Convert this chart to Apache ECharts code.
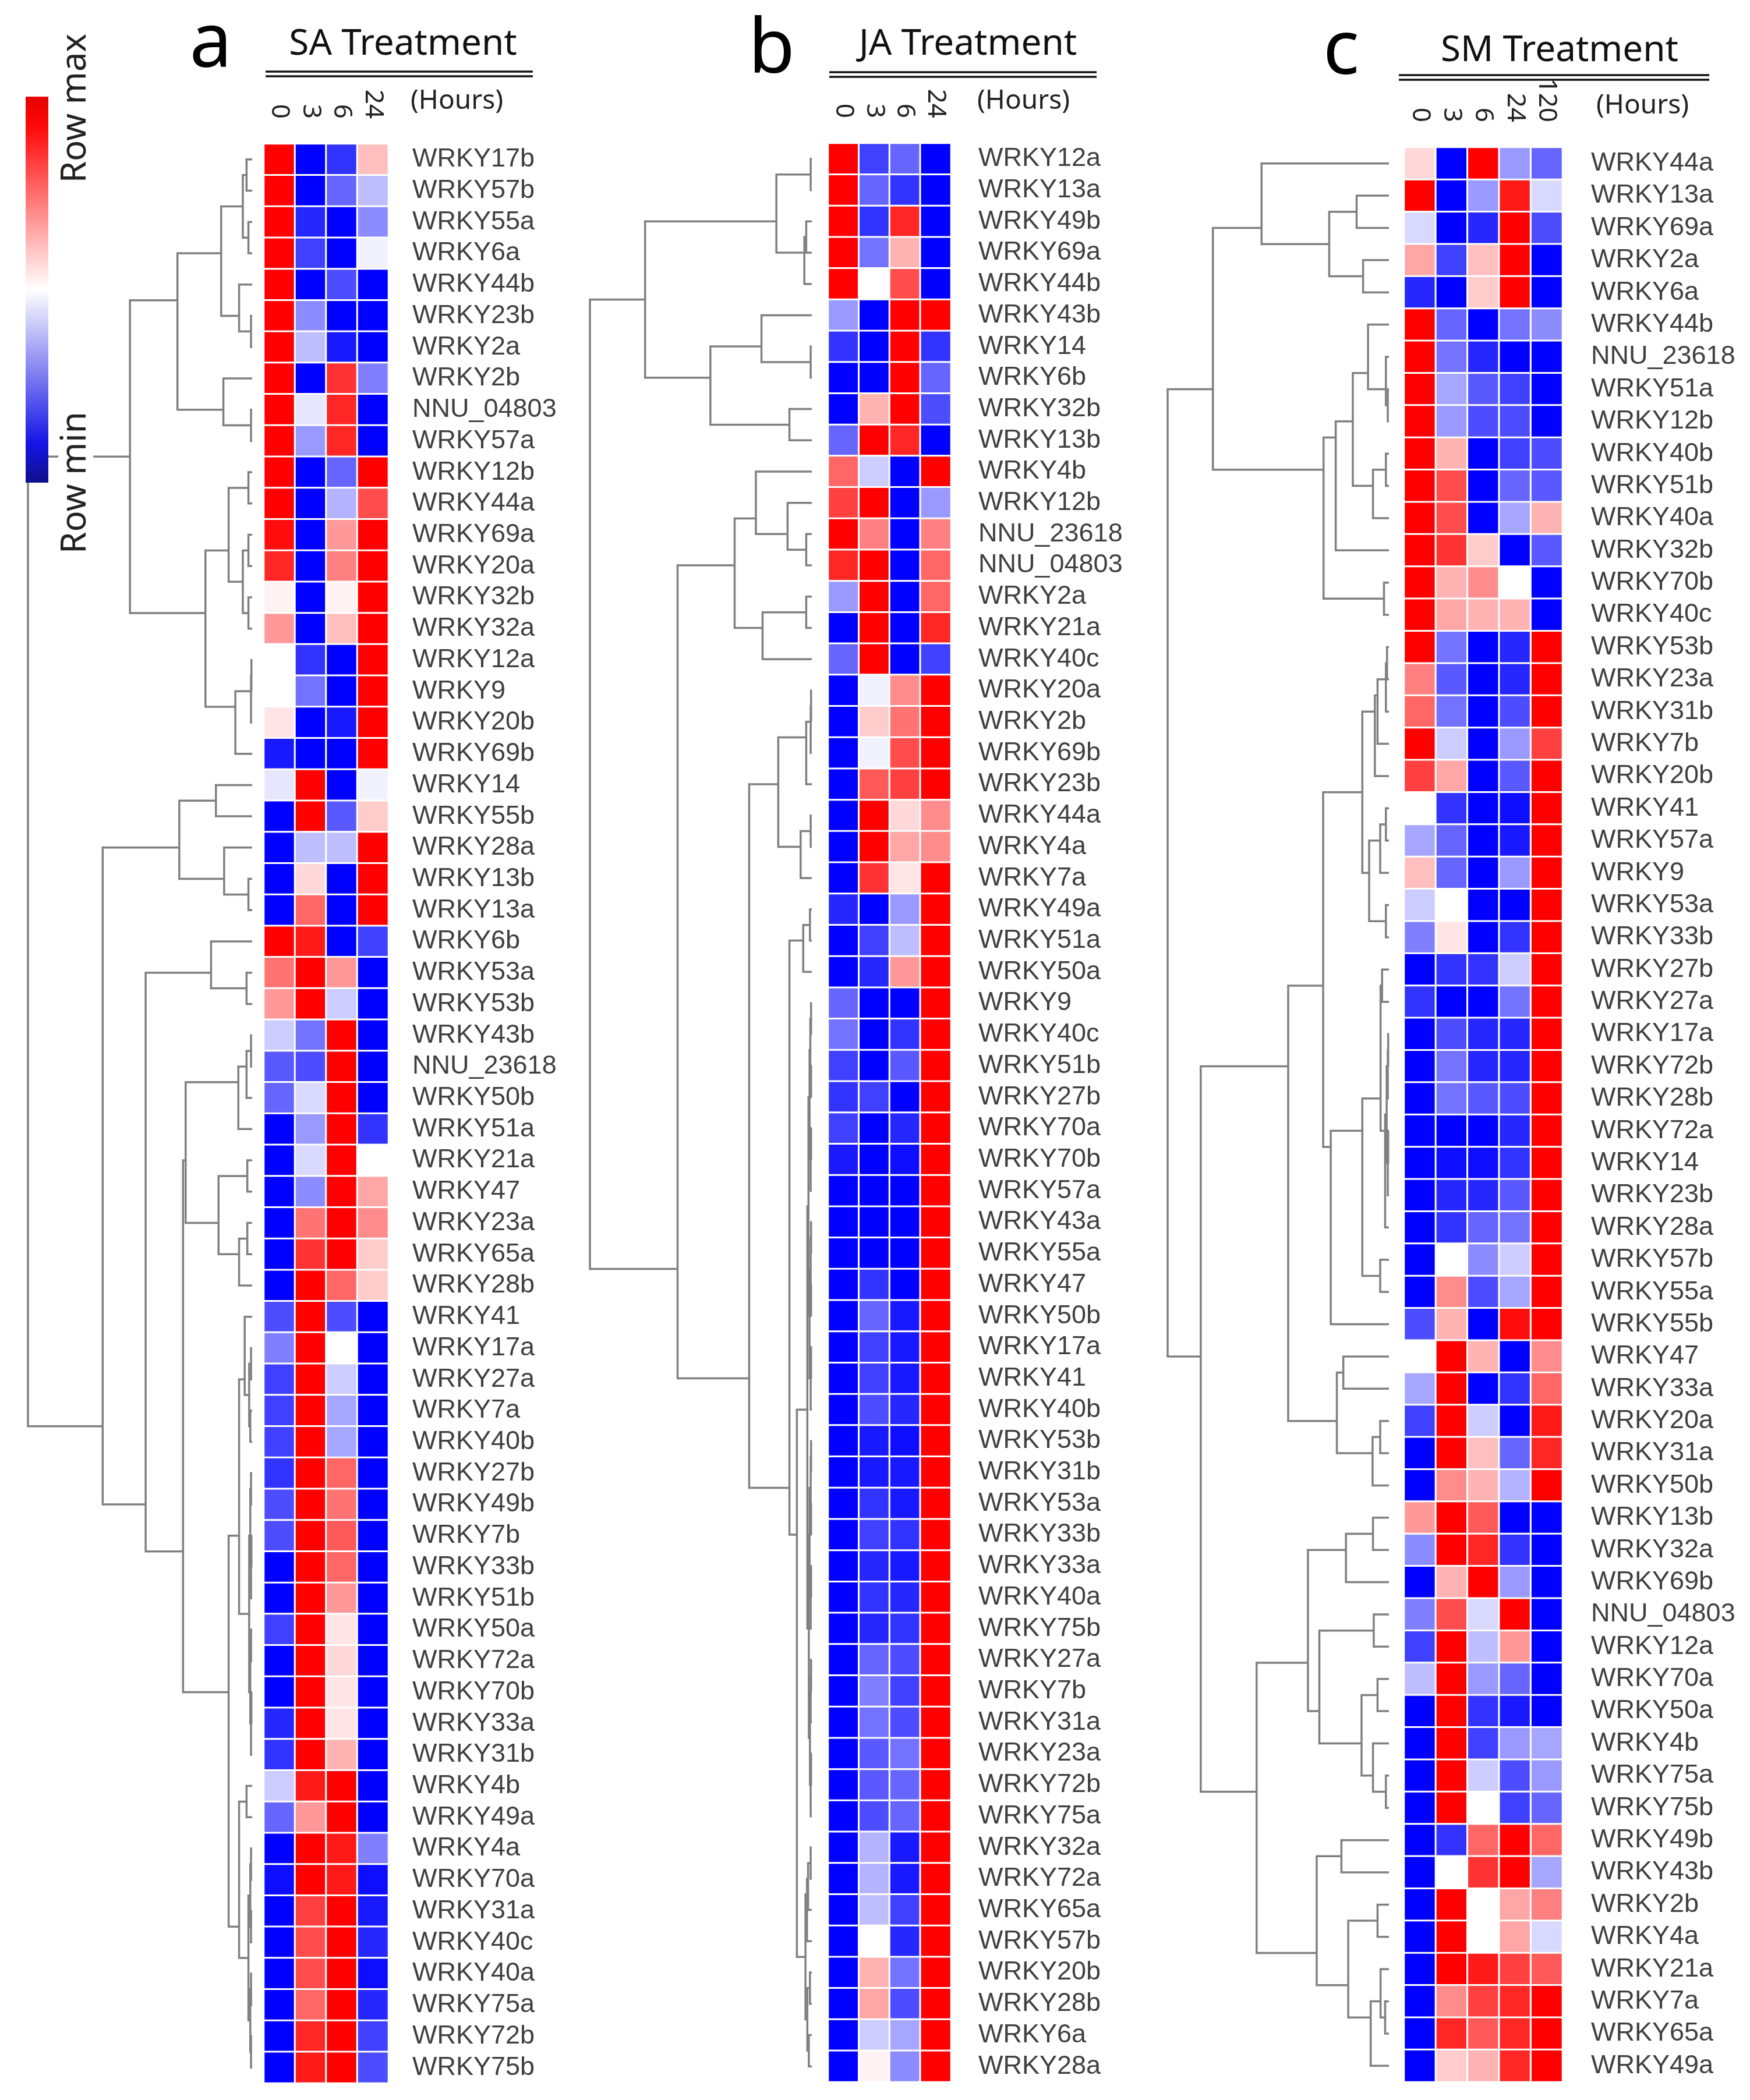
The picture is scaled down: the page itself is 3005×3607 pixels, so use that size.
<!DOCTYPE html>
<html><head><meta charset="utf-8">
<script src="https://cdn.jsdelivr.net/npm/echarts@6/dist/echarts.min.js"></script>
<style>html,body{margin:0;padding:0;background:#fff}#c{width:3005px;height:3607px}</style>
</head><body><div id="c"></div>
<script>
// ---------- data ----------
const colsA = ['0','3','6','24'];
const colsB = ['0','3','6','24'];
const colsC = ['0','3','6','24','120'];

const rowsA = ['WRKY17b','WRKY57b','WRKY55a','WRKY6a','WRKY44b','WRKY23b','WRKY2a','WRKY2b','NNU_04803','WRKY57a','WRKY12b','WRKY44a','WRKY69a','WRKY20a','WRKY32b','WRKY32a','WRKY12a','WRKY9','WRKY20b','WRKY69b','WRKY14','WRKY55b','WRKY28a','WRKY13b','WRKY13a','WRKY6b','WRKY53a','WRKY53b','WRKY43b','NNU_23618','WRKY50b','WRKY51a','WRKY21a','WRKY47','WRKY23a','WRKY65a','WRKY28b','WRKY41','WRKY17a','WRKY27a','WRKY7a','WRKY40b','WRKY27b','WRKY49b','WRKY7b','WRKY33b','WRKY51b','WRKY50a','WRKY72a','WRKY70b','WRKY33a','WRKY31b','WRKY4b','WRKY49a','WRKY4a','WRKY70a','WRKY31a','WRKY40c','WRKY40a','WRKY75a','WRKY72b','WRKY75b'];
const valuesA = [
[1,-1,-0.8,0.25],[1,-1,-0.6,-0.25],[1,-0.85,-1,-0.45],[1,-0.75,-1,-0.05],[1,-1,-0.7,-1],
[1,-0.45,-1,-1],[1,-0.25,-0.9,-1],[1,-1,0.8,-0.5],[1,-0.1,0.85,-1],[1,-0.4,0.85,-1],
[1,-1,-0.6,1],[1,-1,-0.3,0.7],[0.95,-1,0.4,1],[0.85,-1,0.5,1],[0.05,-1,0.05,1],
[0.4,-1,0.25,1],[0,-0.8,-1,1],[0,-0.55,-1,1],[0.1,-1,-0.9,1],[-0.9,-1,-1,1],
[-0.1,1,-1,-0.05],[-1,1,-0.65,0.2],[-1,-0.25,-0.25,1],[-1,0.15,-1,1],[-1,0.6,-1,1],
[1,0.9,-1,-0.75],[0.55,1,0.4,-1],[0.4,1,-0.2,-1],[-0.2,-0.55,1,-1],[-0.65,-0.7,1,-1],
[-0.6,-0.15,1,-1],[-1,-0.4,1,-0.8],[-1,-0.15,1,0],[-1,-0.45,1,0.35],[-1,0.55,1,0.45],
[-1,0.8,1,0.2],[-1,1,0.6,0.2],[-0.7,1,-0.7,-1],[-0.5,1,0,-1],[-0.75,1,-0.2,-1],
[-0.75,1,-0.35,-1],[-0.75,1,-0.35,-1],[-0.8,1,0.6,-1],[-0.7,1,0.55,-1],[-0.7,1,0.65,-1],
[-1,1,0.6,-1],[-1,1,0.4,-1],[-0.75,1,0.1,-1],[-1,1,0.15,-1],[-1,1,0.1,-1],
[-0.85,1,0.1,-1],[-0.8,1,0.3,-1],[-0.2,0.9,1,-1],[-0.6,0.4,1,-1],[-1,1,0.9,-0.5],
[-0.95,1,0.9,-0.95],[-1,0.75,1,-0.9],[-1,0.7,1,-0.85],[-1,0.7,1,-0.95],[-1,0.6,1,-0.85],
[-1,0.85,1,-0.75],[-1,0.9,1,-0.7]];
// dendrogram: [mergeHeight, left, right]; integers are row indices
const treeA =
[600,
  [327,
    [200,
      [83, [25,[15,0,1],[10,2,3]], [35,4,[3,5,6]]],
      [77, 7, [3,8,9]]],
    [125,
      [63, [10,10,11], [25,[10,12,13],[10,14,15]]],
      [45, [3,[2,16,17],18], 19]]],
  [400,
    [195, [97,20,21], [75,22,[10,23,24]]],
    [285,
      [110, 25, [15,26,27]],
      [185,
        [178,
          [37, [15,[3,28,29],30], 31],
          [90, [13,32,33], [35,[13,34,35],36]]],
        [63,
          [35,
            [20, 37, [8,[3,38,39],[5,40,41]]],
            [8, [5,[3,42,43],[3,[2,44,45],46]], [5,[3,47,48],[3,[2,49,50],51]]]],
          [35, [15,52,53], [10,[5,[3,54,55],[3,56,57]],[5,[3,58,59],[3,60,61]]]]]]]]];

const rowsB = ['WRKY12a','WRKY13a','WRKY49b','WRKY69a','WRKY44b','WRKY43b','WRKY14','WRKY6b','WRKY32b','WRKY13b','WRKY4b','WRKY12b','NNU_23618','NNU_04803','WRKY2a','WRKY21a','WRKY40c','WRKY20a','WRKY2b','WRKY69b','WRKY23b','WRKY44a','WRKY4a','WRKY7a','WRKY49a','WRKY51a','WRKY50a','WRKY9','WRKY40c','WRKY51b','WRKY27b','WRKY70a','WRKY70b','WRKY57a','WRKY43a','WRKY55a','WRKY47','WRKY50b','WRKY17a','WRKY41','WRKY40b','WRKY53b','WRKY31b','WRKY53a','WRKY33b','WRKY33a','WRKY40a','WRKY75b','WRKY27a','WRKY7b','WRKY31a','WRKY23a','WRKY72b','WRKY75a','WRKY32a','WRKY72a','WRKY65a','WRKY57b','WRKY20b','WRKY28b','WRKY6a','WRKY28a'];
const valuesB = [
[1,-0.75,-0.6,-1],[1,-0.6,-0.8,-1],[1,-0.8,0.85,-1],[1,-0.55,0.3,-1],[1,0,0.7,-1],
[-0.4,-1,1,1],[-0.8,-1,1,-0.8],[-1,-1,1,-0.6],[-1,0.3,1,-0.7],[-0.6,1,0.85,-1],
[0.6,-0.2,-1,1],[0.75,1,-1,-0.4],[1,0.5,-1,0.5],[0.85,1,-1,0.6],[-0.4,1,-1,0.6],
[-1,1,-1,0.85],[-0.6,1,-1,-0.75],[-1,-0.05,0.45,1],[-1,0.2,0.55,1],[-1,-0.05,0.7,1],
[-1,0.65,0.75,1],[-1,1,0.15,0.45],[-1,1,0.35,0.45],[-1,0.8,0.1,1],[-0.85,-1,-0.4,1],
[-1,-0.75,-0.25,1],[-1,-0.85,0.4,1],[-0.6,-1,-1,1],[-0.55,-1,-0.8,1],[-0.75,-1,-0.65,1],
[-0.8,-0.75,-1,1],[-0.75,-1,-0.85,1],[-0.9,-1,-0.95,1],[-1,-1,-1,1],[-1,-1,-1,1],
[-1,-1,-1,1],[-1,-0.8,-1,1],[-1,-0.6,-0.9,1],[-1,-0.75,-0.9,1],[-1,-0.75,-0.9,1],
[-1,-0.7,-0.85,1],[-1,-0.9,-0.95,1],[-1,-0.9,-0.9,1],[-1,-0.8,-0.9,1],[-1,-0.75,-0.8,1],
[-1,-0.85,-0.9,1],[-1,-0.8,-0.85,1],[-1,-0.85,-0.8,1],[-1,-0.6,-0.7,1],[-1,-0.5,-0.75,1],
[-1,-0.55,-0.7,1],[-1,-0.65,-0.55,1],[-1,-0.65,-0.6,1],[-1,-0.7,-0.6,1],[-1,-0.3,-0.9,1],
[-1,-0.3,-0.9,1],[-1,-0.25,-0.75,1],[-1,0,-0.85,1],[-1,0.3,-0.55,1],[-1,0.35,-0.7,1],
[-1,-0.2,-0.35,1],[-1,0.05,-0.45,1]];
const treeB =
[595,
  [447,
    [95, [3,0,1], [20,[15,2,3],4]],
    [272, [135,5,[3,6,7]], [60,8,9]]],
  [360,
    [207,
      [150, 10, [65,11,[15,12,13]]],
      [132, [15,14,15], 16]],
    [168,
      [90, [15,[3,[2,17,18],19],20], [30,[3,21,22],23]],
      [60,
        [23, [5,24,25], 26],
        [40,
          [12,
            [9, [6,[4,[2,27,28],[2,29,30]],[3,[2,31,32],33]], [6,[3,[2,34,35],[2,36,37]],[3,[2,38,39],40]]],
            [8, [6,[3,[2,41,42],[2,43,44]],[3,[2,45,46],47]], [5,[3,[2,48,49],50],[3,[2,51,52],53]]]],
          [17, [13,[10,[3,54,55],56],57], [12,[5,58,59],[8,60,61]]]]]]]];

const rowsC = ['WRKY44a','WRKY13a','WRKY69a','WRKY2a','WRKY6a','WRKY44b','NNU_23618','WRKY51a','WRKY12b','WRKY40b','WRKY51b','WRKY40a','WRKY32b','WRKY70b','WRKY40c','WRKY53b','WRKY23a','WRKY31b','WRKY7b','WRKY20b','WRKY41','WRKY57a','WRKY9','WRKY53a','WRKY33b','WRKY27b','WRKY27a','WRKY17a','WRKY72b','WRKY28b','WRKY72a','WRKY14','WRKY23b','WRKY28a','WRKY57b','WRKY55a','WRKY55b','WRKY47','WRKY33a','WRKY20a','WRKY31a','WRKY50b','WRKY13b','WRKY32a','WRKY69b','NNU_04803','WRKY12a','WRKY70a','WRKY50a','WRKY4b','WRKY75a','WRKY75b','WRKY49b','WRKY43b','WRKY2b','WRKY4a','WRKY21a','WRKY7a','WRKY65a','WRKY49a'];
const valuesC = [
[0.15,-1,1,-0.4,-0.6],[1,-1,-0.4,0.9,-0.15],[-0.15,-1,-0.85,1,-0.7],[0.35,-0.75,0.25,1,-1],[-0.85,-1,0.2,1,-1],
[1,-0.6,-1,-0.55,-0.45],[1,-0.55,-0.85,-1,-1],[1,-0.35,-0.65,-0.75,-1],[1,-0.4,-0.7,-0.7,-1],[1,0.3,-1,-0.75,-0.7],
[1,0.7,-1,-0.6,-0.65],[1,0.7,-1,-0.35,0.3],[1,0.8,0.2,-1,-0.65],[1,0.3,0.45,0,-1],[1,0.35,0.3,0.3,-1],
[1,-0.55,-1,-0.85,1],[0.5,-0.65,-1,-0.85,1],[0.6,-0.55,-1,-0.7,1],[1,-0.2,-1,-0.4,0.75],[0.75,0.35,-1,-0.65,1],
[0,-0.8,-1,-0.95,1],[-0.35,-0.6,-1,-0.9,1],[0.25,-0.6,-1,-0.4,1],[-0.2,0,-1,-1,1],[-0.5,0.1,-1,-0.8,1],
[-1,-0.8,-0.8,-0.2,1],[-0.8,-1,-1,-0.55,1],[-1,-0.7,-0.85,-0.85,1],[-1,-0.55,-0.85,-0.85,1],[-1,-0.55,-0.65,-0.7,1],
[-1,-1,-1,-0.85,1],[-1,-0.95,-0.95,-0.8,1],[-1,-0.85,-0.85,-0.65,1],[-1,-0.8,-0.6,-0.55,1],[-1,0,-0.45,-0.2,1],
[-1,0.45,-0.7,-0.35,1],[-0.7,0.3,-1,0.95,1],[0,1,0.3,-1,0.45],[-0.35,1,-1,-0.8,0.6],[-0.75,1,-0.2,-1,0.9],
[-1,1,0.25,-0.6,0.85],[-1,0.45,0.3,-0.3,1],[0.4,1,0.65,-1,-1],[-0.45,1,0.85,-0.8,-1],[-1,0.3,1,-0.4,-1],
[-0.5,0.7,-0.15,1,-1],[-0.75,1,-0.25,0.4,-1],[-0.25,1,-0.4,-0.6,-1],[-1,1,-0.8,-0.9,-1],[-1,1,-0.75,-0.4,-0.35],
[-1,1,-0.2,-0.7,-0.4],[-1,1,0,-0.75,-0.6],[-1,-0.8,0.6,1,0.6],[-1,0,0.8,1,-0.35],[-1,1,0,0.35,0.5],
[-1,1,0,0.35,-0.15],[-1,1,0.9,0.75,0.65],[-1,0.45,0.75,0.85,1],[-1,0.85,0.65,0.85,1],[-1,0.2,0.3,0.85,1]];
const treeC =
[582,
  [463,
    [335, 0, [157,[85,1,2],[68,3,4]]],
    [172,
      [140, [95,[55,5,[8,6,[3,7,8]]],[42,[8,9,10],11]], 12],
      [13,13,14]]],
  [495,
    [265,
      [173,
        [70, [37,[30,[8,[5,15,16],17],18],19], [52,[23,[8,20,21],22],[8,23,24]]],
        [153, [70,[22,[18,25,26],[10,[6,[3,[2,27,28],29],[3,[2,30,31],32]],33]],[23,34,35]], 36]],
      [137, [120,37,38], [43,[23,39,40],41]]],
    [348,
      [213, [113,[42,42,43],44], [183,[40,45,46],[72,[30,47,48],[42,49,[8,50,51]]]]],
      [190, [125,52,53], [107,[30,54,55],[48,[22,56,[10,57,58]],59]]]]]];

const titles = ['SA Treatment','JA Treatment','SM Treatment'];
const panelLetters = ['a','b','c'];

// ---------- helpers ----------
function treeSegments(tree){
  const out=[];
  function walk(n){
    if(typeof n==='number') return {h:0,sum:n,cnt:1};
    const L=walk(n[1]), R=walk(n[2]);
    out.push([n[0], L.sum/L.cnt, R.sum/R.cnt, L.h, R.h]);
    return {h:n[0], sum:L.sum+R.sum, cnt:L.cnt+R.cnt};
  }
  walk(tree);
  return out;
}
function heatData(vals){
  const d=[];
  vals.forEach((row,r)=>row.forEach((v,c)=>d.push([c,r,v])));
  return d;
}
function renderTree(params, api){
  const h=api.value(0), y1=api.value(1), y2=api.value(2), h1=api.value(3), h2=api.value(4);
  return {type:'polyline', shape:{points:[api.coord([h1,y1]),api.coord([h,y1]),api.coord([h,y2]),api.coord([h2,y2])]},
    style:{stroke:'#808080', lineWidth:3.5, fill:null}};
}

const panels = [
  {cols:colsA, rows:rowsA, vals:valuesA, tree:treeA, heat:{left:453,top:247,width:214,height:3331}, treeG:{left:48,width:385}, labelMargin:41},
  {cols:colsB, rows:rowsB, vals:valuesB, tree:treeB, heat:{left:1422,top:246,width:211,height:3330}, treeG:{left:1013,width:381}, labelMargin:47},
  {cols:colsC, rows:rowsC, vals:valuesC, tree:treeC, heat:{left:2411,top:253,width:272,height:3323}, treeG:{left:2005,width:380}, labelMargin:49}
];

const grid=[], xAxis=[], yAxis=[], series=[];
panels.forEach((p,i)=>{
  grid.push({left:p.heat.left, top:p.heat.top, width:p.heat.width, height:p.heat.height});
  grid.push({left:p.treeG.left, top:p.heat.top, width:p.treeG.width, height:p.heat.height});
  xAxis.push({type:'category', gridIndex:2*i, data:p.cols, position:'top',
    axisLine:{show:false}, axisTick:{show:false}, splitLine:{show:false},
    axisLabel:{rotate:90, margin:43, fontSize:44, color:'#222', fontFamily:'Noto Sans', interval:0}});
  yAxis.push({type:'category', gridIndex:2*i, data:p.rows.map((_,k)=>String(k)), inverse:true, position:'right',
    axisLine:{show:false}, axisTick:{show:false}, splitLine:{show:false},
    axisLabel:{margin:p.labelMargin, fontSize:45, color:'#404040', fontFamily:'Liberation Sans', interval:0,
      formatter:(v,k)=>p.rows[+v]}});
  xAxis.push({type:'value', gridIndex:2*i+1, min:0, max:p.tree[0], inverse:true, show:false});
  yAxis.push({type:'value', gridIndex:2*i+1, min:-0.5, max:p.rows.length-0.5, inverse:true, show:false});
});
panels.forEach((p,i)=>{
  series.push({type:'heatmap', xAxisIndex:2*i, yAxisIndex:2*i, data:heatData(p.vals),
    itemStyle:{borderColor:'#ffffff', borderWidth:3}, emphasis:{disabled:true}, silent:true});
});
panels.forEach((p,i)=>{
  series.push({type:'custom', xAxisIndex:2*i+1, yAxisIndex:2*i+1, data:treeSegments(p.tree),
    renderItem:renderTree, silent:true, encode:{x:[0,3,4], y:[1,2]}});
});

const hdr = [
  {letterX:362, letterY:78, titleX:692, titleY:76, lineX1:456, lineX2:915, lineY:123, hoursX:705, hoursY:174},
  {letterX:1325, letterY:88, titleX:1662, titleY:76, lineX1:1424, lineX2:1883, lineY:124, hoursX:1678, hoursY:174},
  {letterX:2303, letterY:90, titleX:2678, titleY:87, lineX1:2402, lineX2:2935, lineY:129, hoursX:2741, hoursY:182}
];
const graphic=[];
hdr.forEach((h,i)=>{
  graphic.push({type:'text', z:100, style:{text:panelLetters[i], x:h.letterX, y:h.letterY, textAlign:'center', textVerticalAlign:'middle', fontSize:130, fontFamily:'Noto Sans', fill:'#000'}});
  graphic.push({type:'text', z:100, style:{text:titles[i], x:h.titleX, y:h.titleY, textAlign:'center', textVerticalAlign:'middle', fontSize:62, fontFamily:'Noto Sans', fill:'#111'}});
  graphic.push({type:'line', z:100, shape:{x1:h.lineX1, y1:h.lineY, x2:h.lineX2, y2:h.lineY}, style:{stroke:'#111', lineWidth:3.5}});
  graphic.push({type:'line', z:100, shape:{x1:h.lineX1, y1:h.lineY+8, x2:h.lineX2, y2:h.lineY+8}, style:{stroke:'#111', lineWidth:3.5}});
  graphic.push({type:'text', z:100, style:{text:'(Hours)', x:h.hoursX, y:h.hoursY, textAlign:'left', textVerticalAlign:'middle', fontSize:46, fontFamily:'Noto Sans', fill:'#222'}});
});
// colour key
graphic.push({type:'rect', z:100, shape:{x:44, y:166, width:39, height:663},
  style:{fill:new echarts.graphic.LinearGradient(0,0,0,1,[
    {offset:0,color:'#e60000'},{offset:0.08,color:'#ff0a0a'},{offset:0.5,color:'#ffffff'},
    {offset:0.9,color:'#1414e6'},{offset:1,color:'#10108c'}])}});
graphic.push({type:'text', z:100, rotation:Math.PI/2, x:130, y:186, style:{text:'Row max', x:0, y:0, textAlign:'center', textVerticalAlign:'middle', fontSize:60, fontFamily:'Noto Sans', fill:'#222', backgroundColor:'#fff'}});
graphic.push({type:'text', z:100, rotation:Math.PI/2, x:130, y:829, style:{text:'Row min', x:0, y:0, textAlign:'center', textVerticalAlign:'middle', fontSize:60, fontFamily:'Noto Sans', fill:'#222', backgroundColor:'#fff'}});

const chart = echarts.init(document.getElementById('c'), null, {renderer:'canvas'});
chart.setOption({
  backgroundColor:'#ffffff',
  animation:false,
  grid, xAxis, yAxis, series, graphic,
  visualMap:{type:'continuous', show:false, min:-1, max:1, seriesIndex:[0,1,2],
    inRange:{color:['#0000ff','#ffffff','#ff0000']}}
});
</script></body></html>
